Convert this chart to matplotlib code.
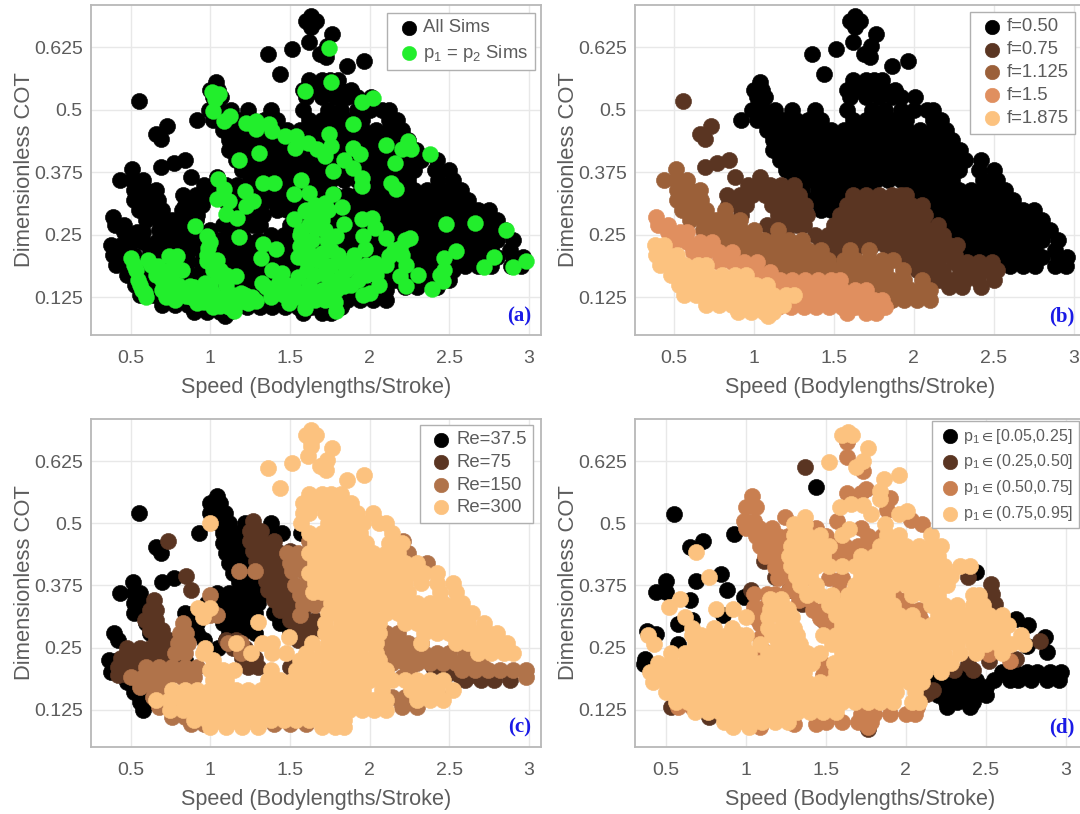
import matplotlib
matplotlib.use('Agg')
import matplotlib.pyplot as plt

plt.rcParams['font.family'] = ['Liberation Sans', 'DejaVu Sans']
plt.rcParams['mathtext.default'] = 'regular'

f050_rows = [
    (0.688, [1.63]), (0.678, [1.60, 1.665]), (0.665, [1.63]), (0.652, [1.763]),
    (0.635, [1.618]), (0.628, [1.73]), (0.622, [1.515]), (0.612, [1.363, 1.687]),
    (0.606, [1.726]), (0.598, [1.963]), (0.588, [1.86]), (0.572, [1.435]),
    (0.56, [1.62, 1.70, 1.75, 1.80]),
    (0.54, [1.00, 1.05, 1.58, 1.66, 1.74, 1.82, 1.88]),
    (0.555, [1.035]),
    (0.525, [1.02, 1.07, 1.60, 1.70, 1.78, 1.86, 1.92, 2.01]),
    (0.50, [0.99, 1.06, 1.13, 1.24, 1.38, 1.58, 1.74, 1.82, 1.92, 2.00, 2.08, 2.12]),
    (0.48, [0.92, 1.02, 1.10, 1.18, 1.26, 1.34, 1.42, 1.62, 1.70, 1.78, 1.86, 1.95, 2.12, 2.17]),
    (0.46, [1.08, 1.16, 1.24, 1.32, 1.40, 1.48, 1.56, 1.64, 1.72, 1.80, 1.88, 1.96, 2.04, 2.12, 2.20]),
    (0.44, [1.12, 1.20, 1.28, 1.36, 1.44, 1.52, 1.60, 1.68, 1.76, 1.84, 1.92, 2.00, 2.08, 2.16, 2.24]),
    (0.42, [1.12, 1.16, 1.24, 1.32, 1.40, 1.48, 1.56, 1.64, 1.72, 1.80, 1.88, 1.96, 2.04, 2.12, 2.20, 2.29]),
    (0.40, [1.16, 1.20, 1.28, 1.36, 1.44, 1.52, 1.60, 1.68, 1.76, 1.84, 1.92, 2.00, 2.08, 2.16, 2.24, 2.32, 2.42]),
    (0.38, [1.20, 1.24, 1.32, 1.40, 1.48, 1.56, 1.64, 1.72, 1.80, 1.88, 1.96, 2.04, 2.12, 2.20, 2.28, 2.41, 2.50]),
    (0.36, [1.25, 1.28, 1.36, 1.44, 1.52, 1.60, 1.68, 1.76, 1.84, 1.92, 2.00, 2.08, 2.16, 2.24, 2.43, 2.52]),
    (0.34, [1.30, 1.40, 1.48, 1.56, 1.64, 1.72, 1.96, 2.04, 2.12, 2.20, 2.28, 2.36, 2.44, 2.50, 2.57]),
    (0.32, [1.36, 1.44, 1.52, 1.60, 2.00, 2.08, 2.16, 2.24, 2.32, 2.40, 2.48, 2.56, 2.62]),
    (0.30, [1.42, 1.48, 2.04, 2.12, 2.20, 2.28, 2.36, 2.44, 2.52, 2.60, 2.68, 2.75]),
    (0.28, [2.08, 2.16, 2.24, 2.32, 2.40, 2.48, 2.56, 2.64, 2.72, 2.80]),
    (0.26, [2.12, 2.20, 2.28, 2.36, 2.44, 2.52, 2.60, 2.68, 2.76, 2.85]),
    (0.24, [2.16, 2.24, 2.32, 2.40, 2.48, 2.56, 2.64, 2.72, 2.80, 2.90]),
    (0.22, [2.28, 2.36, 2.44, 2.52, 2.60, 2.68, 2.76, 2.88]),
    (0.205, [2.48, 2.56, 2.64, 2.72, 2.80, 2.90, 2.96]),
    (0.187, [2.52, 2.60, 2.68, 2.76, 2.885, 2.95]),
]
f075_rows = [
    (0.518, [0.554]), (0.467, [0.731]), (0.4525, [0.662]), (0.441, [0.694]),
    (0.399, [0.841]), (0.394, [0.77]), (0.386, [0.694]), (0.366, [0.88]),
    (0.365, [1.04]),
    (0.35, [0.96, 1.03, 1.10, 1.17, 1.25]),
    (0.33, [0.83, 0.91, 0.99, 1.07, 1.15, 1.23, 1.28, 1.62, 1.70, 1.78, 1.86, 1.92, 1.95]),
    (0.31, [0.84, 0.90, 0.95, 1.11, 1.19, 1.27, 1.32, 1.58, 1.66, 1.74, 1.82, 1.90, 1.98, 2.05]),
    (0.29, [0.92, 1.15, 1.23, 1.29, 1.33, 1.54, 1.62, 1.70, 1.78, 1.86, 1.94, 2.02, 2.07]),
    (0.27, [1.08, 1.19, 1.27, 1.31, 1.50, 1.58, 1.66, 1.74, 1.82, 1.90, 1.98, 2.06, 2.15]),
    (0.25, [1.13, 1.20, 1.38, 1.46, 1.54, 1.62, 1.70, 1.78, 1.86, 1.94, 2.02, 2.10, 2.18]),
    (0.23, [1.42, 1.50, 1.58, 1.66, 1.74, 1.82, 1.90, 1.98, 2.06, 2.14, 2.22, 2.27]),
    (0.21, [1.46, 1.54, 1.62, 1.86, 1.94, 2.02, 2.10, 2.18, 2.26]),
    (0.195, [1.98, 2.06, 2.14, 2.25, 2.33, 2.41, 2.49]),
    (0.18, [2.02, 2.10, 2.18, 2.29, 2.37, 2.45, 2.52]),
    (0.16, [2.08, 2.16, 2.24, 2.32, 2.40, 2.50]),
    (0.145, [2.22, 2.30, 2.42]),
]
f1125_rows = [
    (0.382, [0.51]),
    (0.36, [0.435, 0.51, 0.58]),
    (0.34, [0.52, 0.60, 0.66]),
    (0.32, [0.52, 0.60, 0.67]),
    (0.30, [0.55, 0.63, 0.70, 0.82]),
    (0.28, [0.60, 0.68, 0.76, 0.84, 0.91]),
    (0.26, [0.68, 0.76, 0.84, 0.92, 1.00, 1.15]),
    (0.24, [0.74, 0.82, 0.90, 0.98, 1.06, 1.14, 1.22, 1.30]),
    (0.22, [0.86, 0.94, 1.02, 1.10, 1.18, 1.26, 1.34, 1.42, 1.60, 1.72]),
    (0.20, [0.98, 1.06, 1.14, 1.22, 1.30, 1.38, 1.46, 1.56, 1.64, 1.72, 1.80, 1.87]),
    (0.18, [1.10, 1.18, 1.26, 1.34, 1.42, 1.50, 1.58, 1.66, 1.74, 1.82, 1.93]),
    (0.16, [1.46, 1.54, 1.62, 1.70, 1.78, 1.86, 1.94, 2.05]),
    (0.14, [1.66, 1.74, 1.82, 1.90, 1.98, 2.06, 2.10]),
    (0.12, [1.86, 1.94, 2.02, 2.10]),
]
f15_rows = [
    (0.285, [0.39]),
    (0.27, [0.40, 0.46]),
    (0.255, [0.46, 0.54, 0.58]),
    (0.235, [0.50, 0.58, 0.66, 0.74]),
    (0.215, [0.62, 0.70, 0.78, 0.86]),
    (0.195, [0.78, 0.86, 0.94, 1.02]),
    (0.175, [0.94, 1.02, 1.10]),
    (0.16, [1.08, 1.16, 1.24, 1.32, 1.40, 1.48, 1.54]),
    (0.14, [1.15, 1.23, 1.31, 1.39, 1.47, 1.55, 1.63, 1.70]),
    (0.12, [1.19, 1.27, 1.35, 1.43, 1.51, 1.59, 1.67, 1.75, 1.80]),
    (0.105, [1.15, 1.23, 1.31, 1.39, 1.47, 1.55, 1.63, 1.71, 1.82]),
    (0.093, [1.58, 1.70, 1.76]),
]
f1875_rows = [
    (0.23, [0.38, 0.44]),
    (0.21, [0.39, 0.46, 0.52]),
    (0.19, [0.41, 0.49, 0.57, 0.65, 0.70]),
    (0.17, [0.48, 0.56, 0.64, 0.72, 0.80, 0.88, 0.95]),
    (0.15, [0.53, 0.61, 0.69, 0.77, 0.85, 0.93, 1.01, 1.08]),
    (0.13, [0.56, 0.64, 0.72, 0.80, 0.88, 0.96, 1.04, 1.12, 1.20, 1.25]),
    (0.11, [0.70, 0.78, 0.86, 0.94, 1.02, 1.10, 1.18]),
    (0.095, [0.90, 0.98, 1.06, 1.12]),
    (0.087, [1.09]),
]

equal_x = [1.745, 1.755, 1.593, 1.954, 2.02, 1.01, 1.053, 1.03, 1.02, 1.085, 1.124, 1.226, 1.29, 1.29, 1.367, 1.39,
           1.47, 1.54, 1.53, 1.615, 1.67, 1.745, 1.755, 1.723, 1.773, 1.896, 1.896, 1.94, 1.84, 1.896, 1.95, 1.954,
           2.105, 2.16, 2.24, 2.2, 2.26, 2.38, 2.134, 2.166, 1.306, 1.178, 1.047, 1.085, 1.04, 1.118, 1.215, 1.27,
           1.226, 1.096, 1.17, 1.334, 1.4, 1.57, 1.527, 1.62, 1.773, 1.723, 1.825, 1.593, 1.658, 1.70, 1.669, 1.527,
           1.57, 1.842, 1.95, 2.015, 2.036, 1.96, 1.97, 2.10, 2.252, 2.19, 2.48, 2.66, 2.857, 2.544, 2.78, 2.72,
           2.9, 2.98, 0.906, 0.977, 0.988, 0.977, 1.04, 1.183, 1.328, 1.41, 1.319, 0.50, 0.535, 0.545, 0.59, 0.61,
           0.675, 0.74, 0.794, 0.72, 0.826, 0.70, 0.76, 0.87, 0.848, 0.967, 0.92, 1.02, 0.99, 1.064, 1.16, 1.107,
           1.15, 1.19, 1.29, 1.237, 1.064, 1.323, 1.388, 1.453, 1.41, 1.518, 1.496, 1.593, 1.58, 1.647, 1.604, 1.669,
           1.755, 1.842, 1.907, 1.734, 1.788, 1.755, 1.788, 1.842, 1.928, 1.734, 1.788, 1.70, 1.62, 1.56, 2.0, 2.058,
           2.036, 2.12, 2.23, 2.19, 2.23, 2.306, 2.39, 2.458, 2.468, 2.468,
           0.52, 0.56, 0.57, 0.60, 0.63, 0.66, 0.70, 0.74, 0.78, 0.76, 0.80, 0.83, 0.78, 0.72, 0.88, 0.90,
           0.94, 0.96, 1.00, 1.04, 1.08, 1.10, 1.14, 1.18, 1.22, 1.26, 1.12, 1.02, 0.98, 1.00, 1.02, 1.06,
           1.10, 1.35, 1.38, 1.43, 1.46, 1.48, 1.53, 1.55, 1.60, 1.62, 1.66, 1.70, 1.72, 1.75, 1.78, 1.82,
           1.85, 1.88, 1.72, 1.66, 1.60, 1.56, 1.55, 1.58, 1.64, 1.72, 1.76, 1.80, 1.96, 1.98, 2.04, 2.10,
           2.15, 2.20, 2.22, 1.98, 1.90, 2.44, 1.70, 1.74, 1.62, 1.66, 1.60]
equal_y = [0.624, 0.555, 0.537, 0.515, 0.523, 0.535, 0.531, 0.521, 0.498, 0.478, 0.487, 0.473, 0.478, 0.461, 0.471, 0.458,
           0.448, 0.448, 0.424, 0.434, 0.421, 0.451, 0.428, 0.408, 0.378, 0.471, 0.424, 0.411, 0.399, 0.384, 0.364, 0.348,
           0.43, 0.394, 0.438, 0.421, 0.422, 0.411, 0.354, 0.342, 0.414, 0.40, 0.361, 0.341, 0.321, 0.318, 0.338, 0.318,
           0.307, 0.291, 0.284, 0.354, 0.354, 0.36, 0.331, 0.334, 0.331, 0.314, 0.306, 0.297, 0.287, 0.301, 0.264, 0.281,
           0.257, 0.271, 0.281, 0.284, 0.264, 0.247, 0.221, 0.244, 0.244, 0.224, 0.272, 0.274, 0.259, 0.217, 0.205, 0.186,
           0.186, 0.197, 0.267, 0.247, 0.224, 0.197, 0.20, 0.245, 0.231, 0.222, 0.204, 0.204, 0.18, 0.16, 0.134, 0.20,
           0.187, 0.207, 0.207, 0.167, 0.18, 0.14, 0.134, 0.147, 0.127, 0.154, 0.114, 0.134, 0.12, 0.167, 0.167, 0.134,
           0.097, 0.134, 0.117, 0.114, 0.107, 0.154, 0.18, 0.174, 0.134, 0.147, 0.114, 0.104, 0.134, 0.134, 0.18, 0.20,
           0.187, 0.194, 0.187, 0.167, 0.14, 0.12, 0.097, 0.147, 0.16, 0.24, 0.247, 0.214, 0.214, 0.227, 0.134, 0.15,
           0.194, 0.207, 0.19, 0.167, 0.147, 0.17, 0.142, 0.157, 0.204, 0.18,
           0.19, 0.15, 0.14, 0.125, 0.19, 0.17, 0.16, 0.18, 0.19, 0.16, 0.15, 0.14, 0.12, 0.125, 0.125, 0.145,
           0.13, 0.115, 0.15, 0.125, 0.115, 0.15, 0.13, 0.115, 0.13, 0.125, 0.105, 0.105, 0.21, 0.235, 0.18, 0.18,
           0.17, 0.145, 0.125, 0.155, 0.13, 0.15, 0.125, 0.165, 0.115, 0.15, 0.12, 0.14, 0.12, 0.15, 0.115, 0.165,
           0.18, 0.15, 0.19, 0.17, 0.20, 0.25, 0.205, 0.23, 0.24, 0.26, 0.22, 0.21, 0.13, 0.17, 0.17, 0.19,
           0.22, 0.21, 0.24, 0.19, 0.21, 0.17, 0.28, 0.30, 0.27, 0.31, 0.30]

re37_rows = [
    (0.556, [1.04]), (0.54, [1.00, 1.06]), (0.52, [1.00, 1.04, 1.09, 0.554]),
    (0.50, [1.05, 1.12, 1.22, 1.38]),
    (0.48, [0.93, 1.08, 1.16, 1.24, 1.32, 1.40, 1.45, 1.57]),
    (0.46, [1.08, 1.14, 1.22]), (0.4525, [0.66]), (0.44, [0.69, 1.10, 1.18, 1.26]),
    (0.42, [1.12, 1.20, 1.26]), (0.40, [1.14, 1.22, 1.30]), (0.391, [0.772]),
    (0.383, [0.513, 0.697, 1.18, 1.26, 1.32]),
    (0.36, [0.437, 0.52, 0.56, 1.04, 1.12, 1.20, 1.28, 1.34]),
    (0.34, [0.52, 0.58, 0.98, 1.08, 1.16, 1.24, 1.30]),
    (0.32, [0.52, 0.56, 0.84, 0.90, 1.04, 1.12, 1.20, 1.28, 1.40, 1.46]),
    (0.30, [0.60, 0.62, 0.85, 0.92, 1.08, 1.16, 1.24, 1.44, 1.50]),
    (0.28, [0.394, 0.62, 0.68, 0.92, 1.12, 1.20, 1.28, 1.50]),
    (0.265, [0.42, 0.66, 0.72, 0.96, 1.10]),
    (0.25, [0.72, 0.78, 1.05]), (0.225, [0.368, 0.42, 0.78, 0.84]),
    (0.20, [0.38, 0.44, 0.80, 0.86]), (0.18, [0.48, 0.56]), (0.16, [0.52, 0.58]),
    (0.14, [0.56, 0.62]), (0.125, [0.58]),
]
re75_rows = [
    (0.505, [1.27]), (0.485, [1.25, 1.32]), (0.465, [0.733, 1.25, 1.32, 1.40]),
    (0.445, [1.27, 1.34, 1.42, 1.50]), (0.425, [1.29, 1.36, 1.44]),
    (0.405, [1.33, 1.40, 1.46]), (0.395, [0.848]), (0.385, [1.35, 1.42, 1.48]),
    (0.365, [0.88, 1.36, 1.44, 1.50]), (0.345, [0.65, 1.40, 1.47, 1.54]),
    (0.325, [0.62, 0.66, 1.44, 1.50, 1.58]), (0.305, [0.59, 0.66, 1.50, 1.58, 1.66]),
    (0.285, [0.62, 0.70, 1.54, 1.62, 1.68]), (0.265, [0.66, 0.74, 1.10, 1.16, 1.55, 1.62]),
    (0.25, [0.48, 0.56, 0.62, 0.70, 0.76, 1.14, 1.22]),
    (0.23, [0.44, 0.52, 0.60, 0.68, 0.76, 1.20, 1.28]),
    (0.21, [0.42, 0.50, 0.58, 0.66, 0.74, 1.24, 1.30, 1.50, 2.40]),
    (0.195, [0.42, 0.48, 2.48, 2.56, 2.64, 2.70]),
    (0.185, [2.60, 2.70, 2.78, 2.88]), (0.14, [2.20, 2.26]),
]
re150_rows = [
    (0.465, [1.62, 2.21]), (0.44, [1.48, 1.55, 1.62, 2.24]),
    (0.42, [1.50, 1.57, 1.64, 2.28, 2.36]), (0.405, [1.18, 1.28, 1.51, 1.58, 1.65]),
    (0.375, [1.53, 1.60, 1.68]), (0.355, [1.00, 1.56, 1.64, 1.72]),
    (0.335, [1.58, 1.66, 1.74]), (0.315, [1.00, 1.04, 1.56]), (0.30, [0.83]),
    (0.28, [0.81, 0.85, 2.10, 2.18]), (0.26, [0.80, 0.86, 1.11, 1.19, 2.08, 2.16, 2.24, 2.32]),
    (0.24, [0.78, 0.84, 1.19, 2.10, 2.18, 2.26, 2.34, 2.42, 2.50, 2.60]),
    (0.22, [2.14, 2.22, 2.30, 2.38, 2.46, 2.54, 2.62, 2.70]),
    (0.21, [0.60, 0.68, 0.76, 0.84, 0.92]),
    (0.205, [2.25, 2.58, 2.66, 2.74, 2.82, 2.90, 2.98]),
    (0.19, [0.50, 0.58, 0.66, 0.74, 0.82, 0.90, 2.20, 2.98]),
    (0.17, [0.56, 0.64, 0.72]), (0.15, [0.64, 0.72, 2.14, 2.22, 2.30, 2.38, 2.44]),
    (0.13, [0.68, 0.76, 2.20, 2.30]), (0.11, [0.76, 0.84]),
    (0.097, [0.88, 0.96, 1.30, 1.40, 1.50, 1.60]),
]
re300_rows = [
    (0.688, [1.63]), (0.678, [1.60, 1.665]), (0.665, [1.63]), (0.655, [1.63]),
    (0.652, [1.763]), (0.635, [1.615]), (0.628, [1.73]), (0.622, [1.515]),
    (0.615, [1.69]), (0.612, [1.363]), (0.608, [1.726]), (0.598, [1.963]),
    (0.588, [1.86]), (0.572, [1.435]),
    (0.56, [1.62, 1.70, 1.76, 1.82]),
    (0.54, [1.58, 1.66, 1.74, 1.82, 1.88]),
    (0.52, [1.58, 1.62, 1.72, 1.78, 1.86, 1.92, 2.02]),
    (0.50, [1.00, 1.57, 1.74, 1.82, 1.90, 1.96, 2.06, 2.10]),
    (0.48, [1.62, 1.70, 1.78, 1.86, 1.94, 2.14]),
    (0.46, [1.66, 1.74, 1.82, 1.90, 1.98, 2.12, 2.20]),
    (0.44, [1.62, 1.70, 1.78, 1.86, 1.94, 2.02, 2.10, 2.18]),
    (0.42, [1.66, 1.74, 1.82, 1.90, 1.98, 2.06, 2.14, 2.22, 2.30]),
    (0.40, [1.62, 1.70, 1.78, 1.86, 1.94, 2.02, 2.10, 2.18, 2.26, 2.34, 2.42]),
    (0.38, [1.66, 1.74, 1.82, 1.90, 1.98, 2.06, 2.14, 2.22, 2.32, 2.42, 2.52]),
    (0.362, [1.647, 1.70, 1.78, 1.86, 1.94, 2.02, 2.10, 2.18, 2.24, 2.44, 2.54]),
    (0.34, [1.76, 1.82, 1.90, 1.98, 2.06, 2.14, 2.22, 2.30, 2.38, 2.46, 2.54, 2.58]),
    (0.33, [0.923, 1.00]),
    (0.32, [1.74, 1.78, 1.86, 1.94, 2.02, 2.10, 2.18, 2.26, 2.34, 2.42, 2.50, 2.58, 2.64]),
    (0.311, [0.956]), (0.301, [1.30]),
    (0.30, [1.72, 1.82, 1.90, 1.98, 2.06, 2.22, 2.30, 2.38, 2.46, 2.54, 2.62, 2.72]),
    (0.28, [1.72, 1.78, 1.86, 1.94, 2.02, 2.06, 2.34, 2.42, 2.50, 2.58, 2.66, 2.74, 2.80]),
    (0.271, [1.496]),
    (0.26, [1.16, 1.323, 1.388, 1.64, 1.74, 1.82, 1.90, 1.98, 2.04, 2.32, 2.54, 2.62, 2.70, 2.78, 2.86]),
    (0.25, [0.967]),
    (0.24, [0.956, 1.258, 1.388, 1.475, 1.60, 1.70, 1.78, 1.86, 1.94, 2.04, 2.68, 2.76, 2.84, 2.90]),
    (0.225, [1.02, 1.56, 1.64, 1.74, 1.82, 1.90, 1.98, 2.06]),
    (0.205, [1.00, 1.08, 1.15, 1.38, 1.54, 1.62, 1.70, 1.78, 1.86, 1.94, 2.02, 2.10]),
    (0.185, [1.02, 1.10, 1.36, 1.44, 1.52, 1.60, 1.68, 1.76, 1.84, 1.92, 2.00, 2.08, 2.14, 2.22, 2.30, 2.38, 2.46]),
    (0.165, [0.76, 0.84, 0.92, 1.00, 1.08, 1.16, 1.24, 1.32, 1.40, 1.48, 1.56, 1.64, 1.72, 1.80, 1.88, 1.96, 2.08, 2.26, 2.34, 2.42, 2.52]),
    (0.145, [0.66, 0.74, 0.82, 0.90, 0.98, 1.06, 1.14, 1.22, 1.30, 1.38, 1.46, 1.54, 1.62, 1.70, 1.78, 1.86, 1.94, 2.02, 2.10, 2.30, 2.38, 2.46]),
    (0.125, [0.75, 0.83, 0.91, 0.99, 1.07, 1.15, 1.23, 1.31, 1.39, 1.47, 1.55, 1.63, 1.71, 1.79, 1.87, 1.95, 2.03, 2.10]),
    (0.105, [0.90, 0.98, 1.06, 1.14, 1.22, 1.30, 1.38, 1.46, 1.54, 1.62, 1.70, 1.78, 1.84]),
    (0.09, [1.00, 1.10, 1.20, 1.30, 1.70, 1.78, 1.84]),
]

p_low_rows = [
    (0.573, [1.44]), (0.519, [0.55]), (0.479, [0.927]), (0.465, [0.73]),
    (0.453, [0.65]), (0.402, [2.44]), (0.398, [0.845]), (0.385, [0.69]),
    (0.384, [0.50]), (0.365, [0.88]), (0.362, [0.435, 0.50]), (0.352, [0.985]),
    (0.345, [0.65]), (0.315, [0.856]), (0.308, [2.69]), (0.305, [0.66]),
    (0.298, [0.575]), (0.295, [2.765]), (0.284, [0.38]), (0.278, [0.435]),
    (0.271, [2.87]), (0.258, [0.575]), (0.254, [2.755]), (0.241, [2.885]),
    (0.228, [0.37]), (0.217, [0.36]),
    (0.20, [2.15, 2.22, 2.30, 2.38, 2.60, 2.68, 2.76, 2.82, 2.90, 2.97]),
    (0.185, [2.12, 2.20, 2.28, 2.36, 2.44, 2.55, 2.65, 2.70, 2.78, 2.88, 2.96]),
    (0.17, [2.20, 2.28, 2.36, 2.44, 2.50]),
    (0.155, [2.20, 2.28, 2.36, 2.44, 2.50]),
    (0.14, [2.25, 2.32, 2.42]), (0.13, [2.26, 2.40]),
]
p_mid_rows = [
    (0.613, [1.367]), (0.425, [1.115]), (0.392, [1.18, 2.39]), (0.378, [2.53]),
    (0.365, [1.03, 1.266]), (0.358, [2.54]), (0.338, [1.35, 2.56]), (0.305, [1.48]),
    (0.264, [2.84]), (0.227, [2.69]), (0.224, [2.52]), (0.217, [2.39]),
    (0.205, [2.30, 2.42]), (0.164, [2.17]), (0.157, [2.13]), (0.12, [2.04]),
    (0.11, [0.77]), (0.13, [0.53]), (0.087, [1.76]),
]
p_high_rows = [
    (0.663, [1.63]), (0.634, [1.63]), (0.606, [1.73]), (0.569, [1.75]),
    (0.562, [1.63, 1.72]), (0.556, [1.04]), (0.552, [1.90]), (0.533, [1.00, 1.06]),
    (0.526, [1.88]), (0.512, [1.245]), (0.506, [2.03]), (0.505, [0.985, 1.05, 1.57]),
    (0.499, [2.10]),
    (0.49, [1.00, 1.08, 1.16, 1.44, 1.72]),
    (0.475, [1.06, 1.12, 1.20, 1.26, 1.50, 1.76, 1.85]),
    (0.455, [1.09, 1.16, 1.24, 1.55, 1.62, 1.70, 1.78, 1.86]),
    (0.435, [1.12, 1.20, 1.26, 1.58, 1.66]),
    (0.412, [1.18, 1.24, 1.30]),
    (0.39, [1.20, 1.28, 1.36, 1.52, 1.60]),
    (0.365, [1.27, 1.34, 1.58, 1.92]),
    (0.358, [1.05, 1.13, 1.18]),
    (0.345, [1.33, 1.40, 1.96, 2.00]),
    (0.331, [1.05, 1.12]),
    (0.325, [1.42, 1.48, 2.02, 2.08]),
    (0.31, [1.06, 1.46, 1.52, 2.09]),
    (0.298, [1.09, 1.50, 1.58]),
    (0.27, [1.59, 1.09]), (0.244, [1.11]), (0.238, [2.52]), (0.224, [2.65]),
    (0.217, [1.48]), (0.195, [1.48]), (0.13, [0.575, 0.66, 2.07]),
    (0.117, [1.72, 1.80, 1.90, 2.00, 2.06]), (0.10, [1.50, 1.60, 1.70, 1.78]),
    (0.097, [1.44, 1.30]), (0.09, [1.09, 1.76]),
]
p_top_rows = [
    (0.683, [1.64]), (0.677, [1.60, 1.66]), (0.651, [1.76]), (0.626, [1.73]),
    (0.623, [1.52]), (0.613, [1.69]), (0.597, [1.96]), (0.589, [1.865]),
    (0.566, [1.84]), (0.549, [1.84]), (0.539, [1.655]), (0.536, [1.73]),
    (0.532, [1.59]), (0.525, [2.01]), (0.519, [1.78, 1.955]), (0.512, [1.37]),
    (0.499, [1.30, 1.37, 1.87]), (0.489, [1.645]),
    (0.476, [1.30, 1.38, 1.46, 1.60, 1.88, 1.96, 2.16]),
    (0.455, [1.28, 1.36, 1.44, 1.52, 1.84, 1.92, 2.00, 2.08, 2.16, 2.22]),
    (0.442, [0.69]),
    (0.435, [1.27, 1.32, 1.40, 1.48, 1.72, 1.80, 1.88, 1.96, 2.04, 2.12, 2.20]),
    (0.415, [1.28, 1.36, 1.44, 1.52, 1.60, 1.68, 1.76, 1.84, 1.92, 2.00, 2.08, 2.16, 2.24, 2.34, 2.40]),
    (0.395, [1.31, 1.40, 1.72, 1.80, 1.88, 1.96, 2.04, 2.12, 2.20, 2.28]),
    (0.392, [0.77]),
    (0.375, [1.34, 1.44, 1.68, 1.76, 1.84, 1.92, 2.00, 2.08, 2.16, 2.26]),
    (0.355, [1.38, 1.46, 1.54, 1.64, 1.72, 1.80, 1.88, 2.04, 2.12, 2.20, 2.42, 2.46]),
    (0.348, [0.585, 1.15, 1.22]),
    (0.335, [1.52, 1.60, 1.68, 1.76, 1.84, 1.92, 2.16, 2.24, 2.32, 2.42, 2.48]),
    (0.331, [0.52]),
    (0.328, [0.81, 0.92, 1.15, 1.22, 1.26]),
    (0.315, [1.56, 1.64, 1.72, 1.80, 1.88, 1.96, 2.04, 2.20, 2.28, 2.36, 2.44, 2.52, 2.60]),
    (0.311, [0.62, 1.00, 1.14, 1.22, 1.29]),
    (0.295, [1.60, 1.68, 1.76, 1.84, 1.92, 2.00, 2.08, 2.16, 2.24, 2.32, 2.40, 2.48, 2.56, 2.64]),
    (0.29, [0.66, 0.80, 0.91, 1.14, 1.22, 1.30]),
    (0.275, [0.39, 0.66, 0.72, 0.80, 0.88, 0.96, 1.00, 1.16, 1.24, 1.32, 1.48, 1.56, 1.64, 1.72, 1.80, 1.88, 1.96, 2.04, 2.12, 2.20, 2.28, 2.36, 2.44, 2.52, 2.60, 2.72]),
    (0.258, [0.425, 0.68, 0.76, 0.84, 0.92, 0.98, 1.09, 1.20, 1.28, 1.34, 1.54, 1.60, 1.68, 1.76, 1.84, 1.92, 2.00, 2.08, 2.16, 2.24, 2.32, 2.42, 2.50, 2.58, 2.66, 2.74]),
    (0.24, [0.53, 0.62, 0.70, 0.78, 0.86, 0.94, 1.02, 1.14, 1.22, 1.30, 1.38, 1.46, 1.60, 1.68, 1.76, 1.84, 1.92, 2.00, 2.08, 2.16, 2.24, 2.34, 2.44, 2.60]),
    (0.22, [0.45, 0.53, 0.61, 0.69, 0.77, 0.85, 0.93, 1.01, 1.09, 1.17, 1.25, 1.33, 1.41, 1.55, 1.63, 1.71, 1.79, 1.87, 1.95, 2.03, 2.11, 2.19, 2.28]),
    (0.2, [0.40, 0.48, 0.56, 0.64, 0.72, 0.80, 0.88, 0.96, 1.04, 1.12, 1.20, 1.28, 1.36, 1.56, 1.64, 1.72, 1.80, 1.88, 1.96, 2.04, 2.12, 2.22]),
    (0.18, [0.42, 0.50, 0.58, 0.66, 0.74, 0.82, 0.90, 0.98, 1.06, 1.14, 1.22, 1.30, 1.38, 1.46, 1.54, 1.62, 1.70, 1.78, 1.86, 1.94, 2.02, 2.10]),
    (0.16, [0.50, 0.58, 0.66, 0.74, 0.82, 0.90, 0.98, 1.06, 1.14, 1.22, 1.30, 1.38, 1.46, 1.54, 1.62, 1.70, 1.78, 1.86, 1.94, 2.06]),
    (0.14, [0.56, 0.64, 0.72, 0.80, 0.88, 0.96, 1.04, 1.12, 1.20, 1.28, 1.36, 1.44, 1.52, 1.60, 1.68, 1.76, 1.84, 1.92, 2.04, 2.08]),
    (0.12, [0.68, 0.76, 0.84, 0.92, 1.00, 1.08, 1.16, 1.24, 1.32, 1.40, 1.48, 1.56]),
    (0.10, [0.86, 0.94, 1.02, 1.10, 1.18, 1.26]),
    (0.09, [0.92, 1.02]),
]

speed_ticks = [0.5, 1, 1.5, 2, 2.5, 3]
speed_labels = ['0.5', '1', '1.5', '2', '2.5', '3']
cot_ticks = [0.125, 0.25, 0.375, 0.5, 0.625]
cot_labels = ['0.125', '0.25', '0.375', '0.5', '0.625']

f_labels = ['f=0.50', 'f=0.75', 'f=1.125', 'f=1.5', 'f=1.875']
f_colors = ['#000000', '#5a3522', '#9b6039', '#e08f5f', '#fcc27f']
re_labels = ['Re=37.5', 'Re=75', 'Re=150', 'Re=300']
re_colors = ['#000000', '#5a3522', '#b0734a', '#fcc27f']
p_labels = ['p$_1\\in$[0.05,0.25]', 'p$_1\\in$(0.25,0.50]', 'p$_1\\in$(0.50,0.75]', 'p$_1\\in$(0.75,0.95]']
p_colors = ['#000000', '#5a3522', '#c97f50', '#fcc27f']

FIG_W, FIG_H = 1080, 814
TEXT = '#5c5c5c'
SIZE = 135


def unpack(rows):
    xs, ys = [], []
    for y, row in rows:
        for x in row:
            xs.append(x)
            ys.append(y)
    return xs, ys


def make_axes(left, right, top, bottom, xlim):
    ax = fig.add_axes([left / FIG_W, 1 - bottom / FIG_H, (right - left) / FIG_W, (bottom - top) / FIG_H])
    ax.set_xlim(*xlim)
    ax.set_ylim(0.05, 0.71)
    ax.set_xticks(speed_ticks, speed_labels)
    ax.set_yticks(cot_ticks, cot_labels)
    ax.tick_params(length=0, labelsize=14, labelcolor=TEXT)
    ax.tick_params(axis='x', pad=11)
    ax.tick_params(axis='y', pad=6)
    ax.grid(color='#e8e8e8', linewidth=1)
    ax.set_axisbelow(True)
    for s in ax.spines.values():
        s.set_color('#b8b8b8')
        s.set_linewidth(1.3)
    ax.set_xlabel('Speed (Bodylengths/Stroke)', fontsize=15.6, color=TEXT, labelpad=7)
    ax.set_ylabel('Dimensionless COT', fontsize=15.8, color=TEXT, labelpad=-1)
    return ax


def draw_groups(ax, groups, labels, colors):
    for rows, lab, col in zip(groups, labels, colors):
        xs, ys = unpack(rows)
        ax.scatter(xs, ys, s=SIZE, c=col, edgecolors=col, linewidths=0.4, label=lab, zorder=3)


def add_legend(ax, fontsize, gap):
    leg = ax.legend(loc='upper right', fontsize=fontsize, frameon=True, fancybox=False, framealpha=1,
                    edgecolor='#b0b0b0', labelspacing=gap, handletextpad=0.0, handlelength=1.6, borderpad=0.35,
                    labelcolor=TEXT, markerscale=0.9, borderaxespad=0)
    leg.set_zorder(5)
    return leg


fig = plt.figure(figsize=(FIG_W / 100, FIG_H / 100), dpi=100)

# (a) everything in black, the p1 = p2 runs on top
ax_a = make_axes(91, 541, 5, 335, (0.252, 3.075))
all_rows = f050_rows + f075_rows + f1125_rows + f15_rows + f1875_rows
xs, ys = unpack(all_rows)
ax_a.scatter(xs, ys, s=SIZE, c='black', edgecolors='black', linewidths=0.4, label='All Sims', zorder=3)
ax_a.scatter(equal_x, equal_y, s=SIZE, c='#22ee2c', edgecolors='#22ee2c', linewidths=0.2, label='p$_1$ = p$_2$ Sims', zorder=4)
leg = add_legend(ax_a, 13.3, 0.35)
leg.set_bbox_to_anchor((535 / FIG_W, 1 - 13 / FIG_H), transform=fig.transFigure)

# (b) frequency
ax_b = make_axes(635, 1085, 5, 335, (0.256, 3.07))
draw_groups(ax_b, [f050_rows, f075_rows, f1125_rows, f15_rows, f1875_rows], f_labels, f_colors)
leg = add_legend(ax_b, 13.3, 0.32)
leg.set_bbox_to_anchor((1075 / FIG_W, 1 - 12 / FIG_H), transform=fig.transFigure)

# (c) Reynolds number
ax_c = make_axes(91, 541, 419, 747, (0.252, 3.075))
draw_groups(ax_c, [re37_rows, re75_rows, re150_rows, re300_rows], re_labels, re_colors)
leg = add_legend(ax_c, 13.3, 0.3)
leg.set_bbox_to_anchor((533 / FIG_W, 1 - 425 / FIG_H), transform=fig.transFigure)

# (d) stiffness ratio
ax_d = make_axes(635, 1085, 419, 747, (0.306, 3.12))
draw_groups(ax_d, [p_low_rows, p_mid_rows, p_high_rows, p_top_rows], p_labels, p_colors)
leg = add_legend(ax_d, 11.5, 0.42)
leg.set_bbox_to_anchor((1079 / FIG_W, 1 - 421 / FIG_H), transform=fig.transFigure)

for label, px, py in [('(a)', 531, 316), ('(b)', 1074, 316), ('(c)', 531, 727), ('(d)', 1074, 727)]:
    fig.text(px / FIG_W, 1 - py / FIG_H, label, family='Liberation Serif', fontsize=15, fontweight='bold',
             color='#1a1ae6', ha='right', va='center', zorder=6)

fig.savefig('out.png', dpi=100)
